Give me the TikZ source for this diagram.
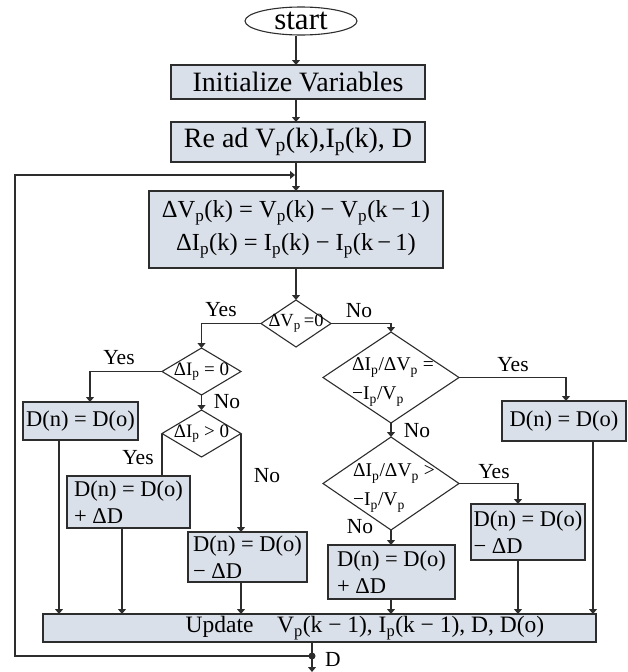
\documentclass[tikz,border=0pt]{standalone}
\usepackage{fontspec}
\setmainfont{Liberation Serif}
\usetikzlibrary{shapes.geometric,arrows.meta}
\newcommand\pp{\textsubscript{p}}
\newcommand\fs[2]{\fontsize{#1}{#2}\selectfont}
\definecolor{boxfill}{RGB}{218,224,233}
\definecolor{lncol}{RGB}{45,45,45}
\begin{document}
\begin{tikzpicture}[x=1pt,y=-1pt,
  proc/.style={draw=lncol, line width=1.4pt, fill=boxfill, inner sep=0pt, outer sep=0pt},
  dia/.style={draw=lncol, line width=1.1pt, diamond, inner sep=0pt, outer sep=0pt},
  arr/.style={draw=lncol, line width=1.1pt, -{Triangle[length=5pt,width=8pt]}},
  plain/.style={draw=lncol, line width=1.1pt},
  lab/.style={font=\fs{21.5}{24}, inner sep=0pt},
  dtxt/.style={inner sep=0pt, align=left}]
\useasboundingbox (0,0) rectangle (627,672);

% top chain
\node[draw=lncol, line width=1.1pt, ellipse, minimum width=112pt, minimum height=28pt, inner sep=0pt, font=\fs{31}{32}] (start) at (301,21) {start};
\node[proc, minimum width=254pt, minimum height=34pt, font=\fs{28}{30}] (init) at (298,82) {Initialize Variables};
\node[proc, minimum width=254pt, minimum height=40pt, font=\fs{28}{30}] (read) at (298,142) {Re ad V\pp(k),I\pp(k), D};
\node[proc, minimum width=294pt, minimum height=77pt, font=\fs{24.5}{33}, align=center] (calc) at (296,229.5) {ΔV\pp(k) = V\pp(k) − V\pp(k\,−\,1)\\ΔI\pp(k) = I\pp(k) − I\pp(k\,−\,1)};

% diamonds
\node[dia, minimum width=70pt, minimum height=47pt] (d1) at (296,323.5) {};
\node[dtxt, font=\fs{18.5}{20}] (d1t) at (d1) {ΔV\pp\,=0};
\node[dia, minimum width=79pt, minimum height=47pt] (d2) at (201.5,371.5) {};
\node[dtxt, font=\fs{19}{20}] (d2t) at (d2) {ΔI\pp\ = 0};
\node[dia, minimum width=79pt, minimum height=47pt] (d4) at (201.5,433.5) {};
\node[dtxt, font=\fs{19}{20}] (d4t) at (d4) {ΔI\pp\ > 0};
\node[dia, minimum width=136pt, minimum height=91pt] (d3) at (391,377.5) {};
\node[dtxt, font=\fs{19.5}{29}] (d3t) at (393,382) {ΔI\pp/ΔV\pp\ =\\−I\pp/V\pp};
\node[dia, minimum width=136pt, minimum height=93pt] (d5) at (391,483.5) {};
\node[dtxt, font=\fs{19.5}{29}] (d5t) at (394,488) {ΔI\pp/ΔV\pp\ >\\−I\pp/V\pp};

% result boxes
\node[proc, minimum width=115pt, minimum height=38pt, font=\fs{22.5}{27}] (b1) at (80.5,421) {D(n) = D(o)};
\node[proc, minimum width=123pt, minimum height=52pt, font=\fs{22.5}{27}, align=left] (b2) at (128.5,502) {D(n) = D(o)\\+ ΔD};
\node[proc, minimum width=119pt, minimum height=50pt, font=\fs{22.5}{27}, align=left] (b3) at (247.5,557) {D(n) = D(o)\\− ΔD};
\node[proc, minimum width=124pt, minimum height=40pt, font=\fs{22.5}{27}] (b4) at (564,421) {D(n) = D(o)};
\node[proc, minimum width=114pt, minimum height=56pt, font=\fs{22.5}{27}, align=left] (b5) at (528,532) {D(n) = D(o)\\− ΔD};
\node[proc, minimum width=127pt, minimum height=54pt, font=\fs{22.5}{27}, align=left] (b6) at (391.5,572) {D(n) = D(o)\\+ ΔD};

% update
\node[proc, minimum width=553pt, minimum height=28pt] (upd) at (319.5,628) {};
\node[inner sep=0pt, font=\fs{23.5}{24}] (updt) at (365,628) {Update\quad V\pp(k − 1), I\pp(k − 1), D, D(o)};

% coordinates for feedback loop
\coordinate (fb) at (295,175);
\coordinate (j) at (312,656);
\coordinate (out) at (312,672);
\coordinate (c1) at (15,656);
\coordinate (c2) at (15,175);

% connectors
\draw[arr] (start.south -| calc.north) -- (init.north -| calc.north);
\draw[arr] (init.south -| calc.north) -- (read.north -| calc.north);
\draw[arr] (read.south -| calc.north) -- (calc.north);
\draw[arr] (calc.south) -- (d1.north);
\draw[arr] (d1.west) -| (d2.north);
\draw[arr] (d1.east) -| (d3.north);
\draw[arr] (d2.west) -| ([xshift=9.5pt]b1.north);
\draw[arr] (d2.south) -- (d4.north);
\draw[plain] (d4.west) -- (d4.west |- b2.north);
\draw[arr] (d4.east) -- (d4.east |- b3.north);
\draw[arr] (d3.east) -| ([xshift=2pt]b4.north);
\draw[arr] (d3.south) -- (d5.north);
\draw[arr] (d5.east) -| ([xshift=-10pt]b5.north);
\draw[arr] (d5.south) -- (d5.south |- b6.north);

\draw[arr] ([xshift=-21.5pt]b1.south) -- ([xshift=-21.5pt]b1.south |- upd.north);
\draw[arr] ([xshift=-6.5pt]b2.south) -- ([xshift=-6.5pt]b2.south |- upd.north);
\draw[arr] ([xshift=-6.5pt]b3.south) -- ([xshift=-6.5pt]b3.south |- upd.north);
\draw[arr] ([xshift=-0.5pt]b6.south) -- ([xshift=-0.5pt]b6.south |- upd.north);
\draw[arr] ([xshift=-10pt]b5.south) -- ([xshift=-10pt]b5.south |- upd.north);
\draw[arr] ([xshift=29pt]b4.south) -- ([xshift=29pt]b4.south |- upd.north);

\draw[plain] (upd.south -| j) -- (j);
\draw[arr] (j) -- (out);
\draw[arr] (j) -- (c1) -- (c2) -- (fb);
\fill[lncol] (j) circle (3.5pt);

% labels
\node[lab] (y1) at (221,310) {Yes};
\node[lab] (n1) at (359,311) {No};
\node[lab] (y2) at (119,358) {Yes};
\node[lab] (n2) at (227,402) {No};
\node[lab] (y4) at (138,458) {Yes};
\node[lab] (n4) at (267,476) {No};
\node[lab] (y3) at (513,365) {Yes};
\node[lab] (n3) at (417,431) {No};
\node[lab] (y5) at (494,472) {Yes};
\node[lab] (n5) at (360,527) {No};
\node[lab] (dl) at (333,659) {D};
\end{tikzpicture}
\end{document}
